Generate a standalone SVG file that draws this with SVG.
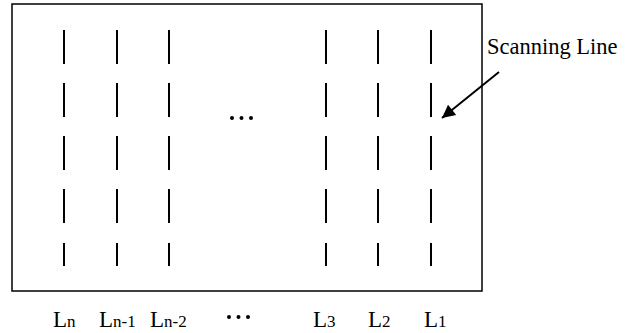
<svg xmlns="http://www.w3.org/2000/svg" width="634" height="333" viewBox="0 0 634 333">
<style>
.seg{stroke:#000;stroke-width:2;fill:none}
.t{font-family:"Liberation Serif","Times New Roman",serif;fill:#000}
.sub{font-size:17px}
</style>
<defs>
<marker id="ah" viewBox="0 0 10 10" refX="10" refY="5" markerWidth="17" markerHeight="13" markerUnits="userSpaceOnUse" orient="auto" style="overflow:visible">
<path d="M0,0 L10,5 L0,10 Z" fill="#000"/>
</marker>
<g id="col">
<line class="seg" x1="0" y1="30" x2="0" y2="64"/>
<line class="seg" x1="0" y1="83" x2="0" y2="117"/>
<line class="seg" x1="0" y1="136" x2="0" y2="170"/>
<line class="seg" x1="0" y1="189" x2="0" y2="223"/>
<line class="seg" x1="0" y1="243" x2="0" y2="266"/>
</g>
</defs>
<rect id="frame" x="12" y="4" width="470" height="287" fill="none" stroke="#000" stroke-width="1.5"/>
<g id="Ln"><use href="#col" x="64"/></g>
<g id="Ln-1"><use href="#col" x="117"/></g>
<g id="Ln-2"><use href="#col" x="169"/></g>
<g id="L3"><use href="#col" x="326"/></g>
<g id="L2"><use href="#col" x="378"/></g>
<g id="L1"><use href="#col" x="431"/></g>
<g id="dots" fill="#000">
<circle cx="232" cy="118" r="2"/><circle cx="241.5" cy="118" r="2"/><circle cx="251" cy="118" r="2"/>
</g>
<g id="dots2" fill="#000">
<circle cx="229" cy="317" r="2"/><circle cx="238.5" cy="317" r="2"/><circle cx="248" cy="317" r="2"/>
</g>
<g id="connectors">
<line x1="499" y1="72" x2="442" y2="118" stroke="#000" stroke-width="2" marker-end="url(#ah)"/>
</g>
<text class="t" x="487" y="54" font-size="22.5">Scanning Line</text>
<g id="labels" class="t" font-size="23">
<text x="53" y="327">L<tspan class="sub">n</tspan></text>
<text x="99" y="327">L<tspan class="sub">n-1</tspan></text>
<text x="150" y="327">L<tspan class="sub">n-2</tspan></text>
<text x="313" y="327">L<tspan class="sub">3</tspan></text>
<text x="368" y="327">L<tspan class="sub">2</tspan></text>
<text x="424" y="327">L<tspan class="sub">1</tspan></text>
</g>
</svg>
